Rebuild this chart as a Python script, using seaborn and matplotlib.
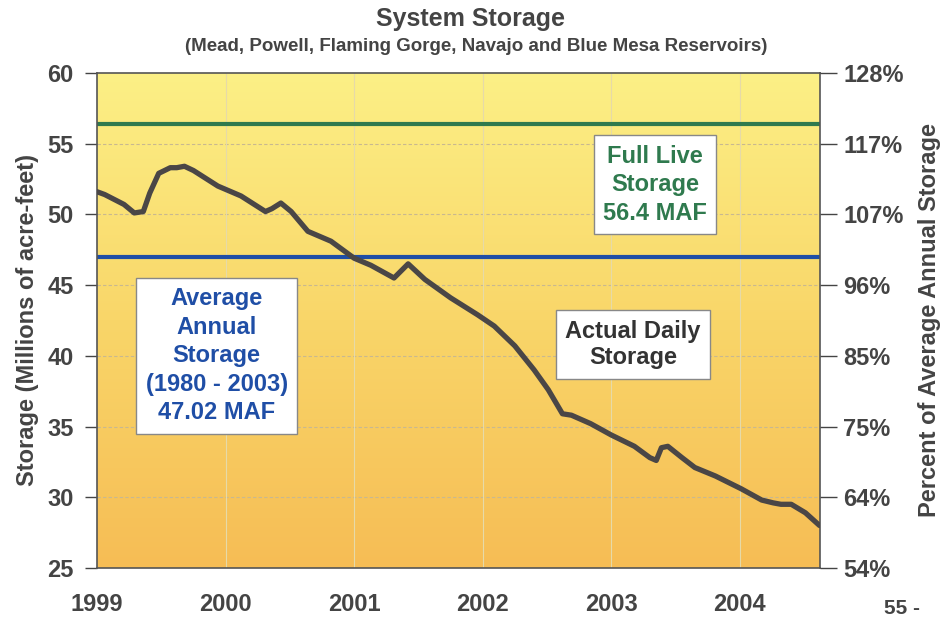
import numpy as np
import pandas as pd
import seaborn as sns
import matplotlib.pyplot as plt
from matplotlib.colors import LinearSegmentedColormap

# ----------------------------
# Data
# ----------------------------
years = [1999.00, 1999.06, 1999.21, 1999.29, 1999.36, 1999.41, 1999.48, 1999.57,
         1999.62, 1999.68, 1999.75, 1999.94, 2000.12, 2000.31, 2000.36, 2000.43,
         2000.51, 2000.64, 2000.82, 2001.00, 2001.13, 2001.31, 2001.42, 2001.55,
         2001.75, 2001.96, 2002.09, 2002.25, 2002.40, 2002.51, 2002.62, 2002.69,
         2002.84, 2003.00, 2003.18, 2003.30, 2003.35, 2003.39, 2003.44, 2003.55,
         2003.65, 2003.81, 2004.01, 2004.17, 2004.26, 2004.32, 2004.40, 2004.51,
         2004.62]
storage = [51.6, 51.4, 50.7, 50.1, 50.2, 51.5, 52.9, 53.3,
           53.3, 53.4, 53.1, 52.0, 51.3, 50.2, 50.4, 50.8,
           50.2, 48.8, 48.1, 46.9, 46.4, 45.5, 46.5, 45.4,
           44.1, 42.9, 42.1, 40.7, 39.0, 37.6, 35.9, 35.8,
           35.2, 34.4, 33.6, 32.8, 32.6, 33.5, 33.6, 32.8,
           32.1, 31.5, 30.6, 29.8, 29.6, 29.5, 29.5, 28.9,
           28.0]

full_live = 56.4
avg_annual = 47.02

y_ticks = [25, 30, 35, 40, 45, 50, 55, 60]
pct_labels = ["54%", "64%", "75%", "85%", "96%", "107%", "117%", "128%"]
year_ticks = [1999, 2000, 2001, 2002, 2003, 2004]

df = pd.DataFrame({"year": years, "storage": storage})

# ----------------------------
# Figure
# ----------------------------
sns.set_theme(style="white")
plt.rcParams["font.family"] = ["Liberation Sans", "DejaVu Sans"]
plt.rcParams["font.weight"] = "bold"

TXT = "#444444"

fig = plt.figure(figsize=(9.42, 6.18), dpi=100)
ax = fig.add_axes([0.103, 0.081, 0.767, 0.801])

x0, x1 = 1999.0, 2004.62
y0, y1 = 25, 60

# yellow (top) -> orange (bottom) background gradient
cmap = LinearSegmentedColormap.from_list("bg", ["#fcf086", "#f9d669", "#f6bd55"])
grad = np.linspace(0, 1, 256).reshape(-1, 1)
ax.imshow(grad, cmap=cmap, aspect="auto", extent=[x0, x1, y0, y1], zorder=0)

# grid
for yt in y_ticks[1:-1]:
    ax.axhline(yt, color="#c8b890", lw=0.8, ls=(0, (3, 2)), zorder=1)
for xt in year_ticks[1:]:
    ax.axvline(xt, color="#e6daa8", lw=0.8, zorder=1)

# reference lines
ax.axhline(full_live, color="#2f7a4e", lw=3, zorder=2)
ax.axhline(avg_annual, color="#1f4ea6", lw=3, zorder=2)

# daily storage
sns.lineplot(data=df, x="year", y="storage", ax=ax, color="#4a4646", lw=3.8, zorder=3)

ax.set_xlim(x0, x1)
ax.set_ylim(y0, y1)
ax.set_xticks(year_ticks)
ax.set_xticklabels([str(y) for y in year_ticks])
ax.set_yticks(y_ticks)
ax.set_xlabel("")
ax.set_ylabel("Storage (Millions of acre-feet)", fontsize=17, fontweight="bold",
              color=TXT, labelpad=6)
ax.tick_params(axis="both", labelsize=17, colors=TXT, length=9, width=1,
               direction="out")
ax.tick_params(axis="y", pad=8)
ax.tick_params(axis="x", pad=9)
for lab in ax.get_xticklabels() + ax.get_yticklabels():
    lab.set_fontweight("bold")
for s in ax.spines.values():
    s.set_color("#555555")
    s.set_linewidth(1.2)

# right axis: percent of average annual storage
ax2 = ax.twinx()
ax2.set_ylim(y0, y1)
ax2.set_yticks(y_ticks)
ax2.set_yticklabels(pct_labels)
ax2.tick_params(axis="y", labelsize=17, colors=TXT, length=12, width=1, pad=5)
for lab in ax2.get_yticklabels():
    lab.set_fontweight("bold")
ax2.set_ylabel("Percent of Average Annual Storage", fontsize=17, fontweight="bold",
               color=TXT, labelpad=10)
for s in ax2.spines.values():
    s.set_visible(False)
ax2.grid(False)

# annotation boxes
box = dict(boxstyle="square,pad=0.4", fc="white", ec="#888888", lw=1)
ax.text(1999.93, 40.0, "Average\nAnnual\nStorage\n(1980 - 2003)\n47.02 MAF",
        ha="center", va="center", fontsize=17, fontweight="bold", color="#1f4ea6",
        linespacing=1.3, bbox=box, zorder=5)
ax.text(2003.34, 52.1, "Full Live\nStorage\n56.4 MAF",
        ha="center", va="center", fontsize=17, fontweight="bold", color="#2f7a4e",
        linespacing=1.3, bbox=box, zorder=5)
ax.text(2003.17, 40.8, "Actual Daily\nStorage",
        ha="center", va="center", fontsize=17, fontweight="bold", color="#333333",
        linespacing=1.2, bbox=box, zorder=5)

# titles
fig.text(0.500, 0.970, "System Storage", ha="center", va="center",
         fontsize=18, fontweight="bold", color=TXT)
fig.text(0.505, 0.925, "(Mead, Powell, Flaming Gorge, Navajo and Blue Mesa Reservoirs)",
         ha="center", va="center", fontsize=13.5, fontweight="bold", color=TXT)

# page number fragment at the bottom edge
fig.text(0.958, 0.0, "55 -", ha="center", va="bottom", fontsize=15,
         fontweight="bold", color=TXT)

fig.savefig("out.png", dpi=100)
plt.close(fig)
